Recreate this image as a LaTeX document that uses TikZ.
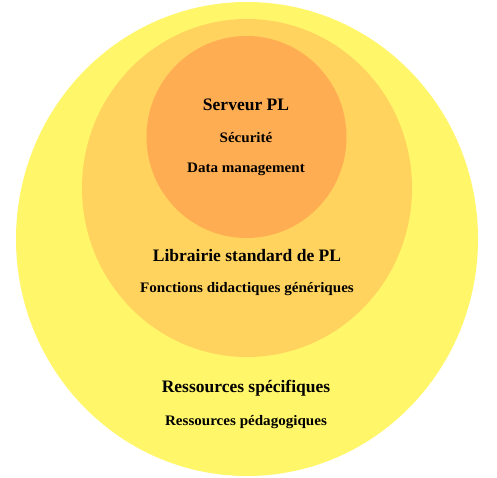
\documentclass[tikz,border=0pt]{standalone}
\usepackage{fontspec}
\setmainfont{Liberation Serif}
\newfontfamily\subfont[FakeStretch=1.04]{Liberation Serif}
\usetikzlibrary{shapes.geometric}
\definecolor{ringA}{RGB}{255,246,106}
\definecolor{ringB}{RGB}{255,211,94}
\definecolor{ringC}{RGB}{255,173,82}
\tikzset{
  disc/.style={ellipse, inner sep=0pt, draw=none},
  title/.style={font=\fontsize{17.5}{19}\selectfont\bfseries, text=black, inner sep=0pt},
  sub/.style={font=\subfont\fontsize{14.5}{16}\selectfont\bfseries, text=black, inner sep=0pt}
}
\begin{document}
\begin{tikzpicture}[x=1pt,y=-1pt]
\useasboundingbox (0,0) rectangle (497,478);
\node[disc, fill=ringA, minimum width=462pt, minimum height=474pt] (outer) at (247,239) {};
\node[disc, fill=ringB, minimum width=330pt, minimum height=338pt] (middle) at (247,188) {};
\node[disc, fill=ringC, minimum width=200pt, minimum height=202pt] (inner) at (246.5,137) {};
\node[title] (srv) at (246,105) {Serveur PL};
\node[sub] (sec) at (246,138) {Sécurité};
\node[sub] (data) at (246,169) {Data management};
\node[title] (lib) at (247,256) {Librairie standard de PL};
\node[sub] (fct) at (247,289) {Fonctions didactiques génériques};
\node[title] (res) at (246,388) {Ressources spécifiques};
\node[sub] (ped) at (246,422) {Ressources pédagogiques};
\end{tikzpicture}
\end{document}
